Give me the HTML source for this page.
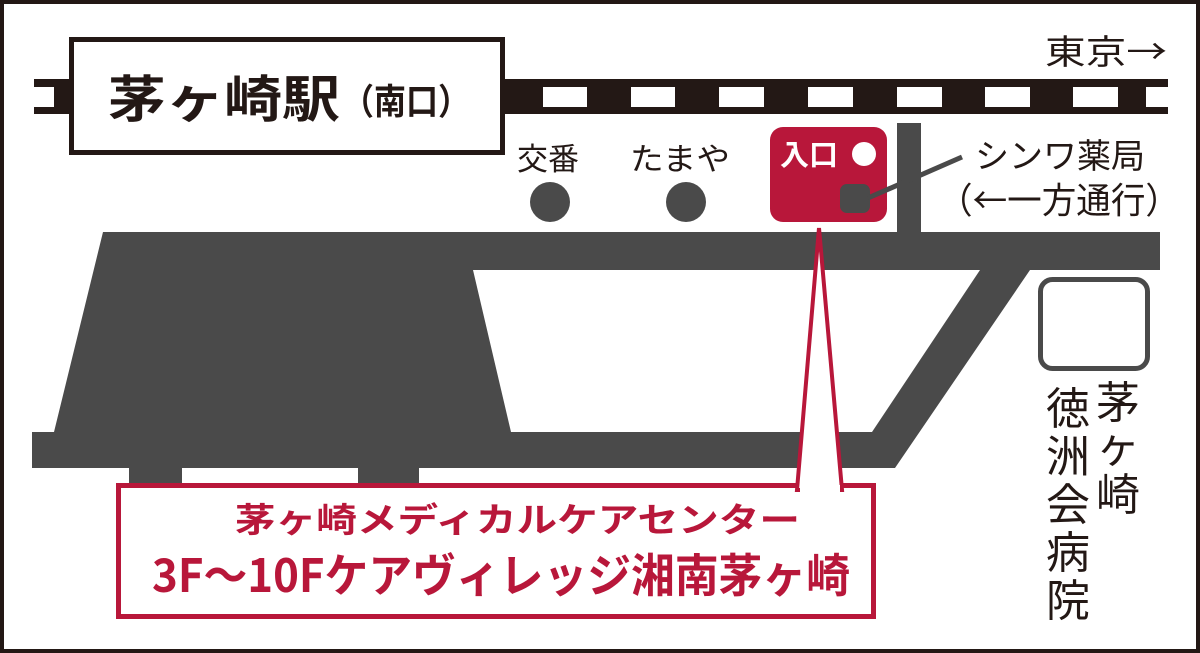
<!DOCTYPE html>
<html><head><meta charset="utf-8"><style>
html,body{margin:0;padding:0;background:#fff;}
svg{display:block;}
text{font-family:"Liberation Sans","Noto Sans CJK JP",sans-serif;}
.j{font-family:"Noto Sans CJK JP",sans-serif;}
</style></head><body>
<svg width="1200" height="653" viewBox="0 0 1200 653" xmlns="http://www.w3.org/2000/svg">
<rect x="2" y="2" width="1196" height="649" fill="#fff" stroke="#231815" stroke-width="4"/>
<rect x="34" y="79" width="1134" height="35" fill="#231815"/>
<rect x="34" y="87" width="20" height="20" fill="#fff"/>
<g fill="#fff">
<rect x="543" y="87" width="44" height="20"/>
<rect x="631" y="87" width="44" height="20"/>
<rect x="719" y="87" width="45" height="20"/>
<rect x="808" y="87" width="45" height="20"/>
<rect x="897" y="87" width="45" height="20"/>
<rect x="985" y="87" width="45" height="20"/>
<rect x="1073" y="87" width="45" height="20"/>
<rect x="1146" y="87" width="22" height="20"/>
</g>
<rect x="71.5" y="39.5" width="431" height="113" fill="#fff" stroke="#231815" stroke-width="5"/>
<text class="j" x="108" y="117" font-size="50" font-weight="bold" fill="#231815" textLength="232" lengthAdjust="spacingAndGlyphs">茅ヶ崎駅</text>
<text class="j" x="342" y="114" font-size="36" font-weight="bold" fill="#231815" textLength="128" lengthAdjust="spacingAndGlyphs">（南口）</text>
<text class="j" x="1045" y="64" font-size="34" fill="#231815" textLength="122" lengthAdjust="spacingAndGlyphs">東京→</text>
<text class="j" x="517" y="170" font-size="31" fill="#231815">交番</text>
<circle cx="550" cy="202" r="20" fill="#4a4a4a"/>
<text class="j" x="630" y="170" font-size="31" fill="#231815" textLength="100" lengthAdjust="spacingAndGlyphs">たまや</text>
<circle cx="686" cy="202" r="20" fill="#4a4a4a"/>
<rect x="897" y="123" width="24" height="115" fill="#4a4a4a"/>
<polygon points="103,232 1160,232 1160,270 1030,270 895,468 32,468 32,432 54,432" fill="#4a4a4a"/>
<polygon points="473,270 980,270 872,432 511,432" fill="#fff"/>
<rect x="129" y="466" width="53" height="22" fill="#4a4a4a"/>
<rect x="358" y="466" width="61" height="22" fill="#4a4a4a"/>
<rect x="770" y="127" width="117" height="95" rx="13" fill="#b8173a"/>
<text class="j" x="780" y="165" font-size="29" font-weight="bold" fill="#fff">入口</text>
<circle cx="864" cy="154" r="12" fill="#fff"/>
<rect x="840" y="184" width="30" height="29" rx="7" fill="#4a4a4a"/>
<line x1="868" y1="198" x2="962" y2="157" stroke="#4a4a4a" stroke-width="5"/>
<text class="j" x="975" y="168" font-size="34" fill="#231815" textLength="170" lengthAdjust="spacingAndGlyphs">シンワ薬局</text>
<text class="j" x="938" y="213" font-size="36" fill="#231815" textLength="242" lengthAdjust="spacingAndGlyphs">（←一方通行）</text>
<rect x="1040.5" y="279.5" width="107" height="89" rx="12" fill="#fff" stroke="#4a4a4a" stroke-width="5"/>
<g class="j" font-size="44" fill="#231815" text-anchor="middle">
<text class="j" x="1118" y="418">茅</text>
<text class="j" x="1118" y="462">ヶ</text>
<text class="j" x="1118" y="510">崎</text>
<text class="j" x="1068" y="424">徳</text>
<text class="j" x="1068" y="472">洲</text>
<text class="j" x="1068" y="520">会</text>
<text class="j" x="1068" y="568">病</text>
<text class="j" x="1068" y="616">院</text>
</g>
<rect x="118.5" y="485.5" width="755" height="131" fill="#fff" stroke="#b8173a" stroke-width="5"/>
<polygon points="797,490 819,228 842,490" fill="#fff" stroke="#b8173a" stroke-width="4"/>
<rect x="800" y="485" width="40" height="8" fill="#fff"/>
<text class="j" x="235" y="532" font-size="34" font-weight="bold" fill="#b8173a" textLength="565" lengthAdjust="spacingAndGlyphs">茅ヶ崎メディカルケアセンター</text>
<text class="j" x="152" y="592" font-size="46" font-weight="bold" fill="#b8173a" textLength="698" lengthAdjust="spacingAndGlyphs">3F〜10Fケアヴィレッジ湘南茅ヶ崎</text>
</svg>
</body></html>
